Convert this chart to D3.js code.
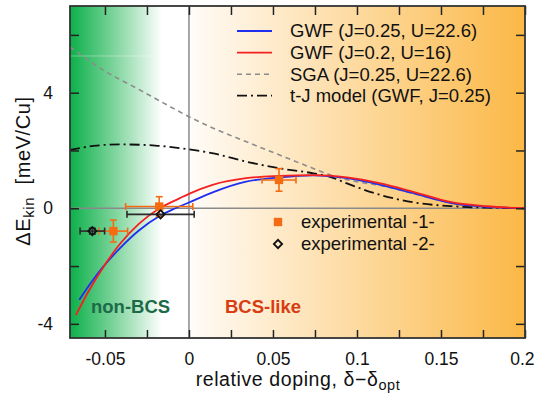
<!DOCTYPE html>
<html>
<head>
<meta charset="utf-8">
<script src="https://cdn.jsdelivr.net/npm/d3@7"></script>
<style>
  body { margin: 0; background: #fff; }
  svg { display: block; font-family: "Liberation Sans", Arial, sans-serif; }
</style>
</head>
<body>
<div id="main"></div>
<script>
// curves: doping (delta - delta_opt) vs Delta E_kin [meV/Cu]
var gwfBlueX = [-0.0653, -0.058, -0.051, -0.041, -0.03, -0.017, -0.008, 0, 0.0145, 0.034, 0.054, 0.074, 0.094, 0.114, 0.1335, 0.157, 0.177, 0.2];
var gwfBlueY = [-3.17, -2.55, -2.02, -1.38, -0.78, -0.25, 0.0, 0.2, 0.56, 0.92, 1.07, 1.14, 1.04, 0.81, 0.52, 0.17, 0.05, 0];

var gwfRedX = [-0.0673, -0.06, -0.051, -0.041, -0.03, -0.0177, -0.0054, 0, 0.0145, 0.034, 0.054, 0.074, 0.094, 0.114, 0.1335, 0.157, 0.177, 0.2];
var gwfRedY = [-3.7, -2.9, -2.04, -1.23, -0.55, -0.01, 0.35, 0.5, 0.82, 1.04, 1.12, 1.15, 1.07, 0.86, 0.57, 0.2, 0.07, 0];

var sgaX = [-0.0708, -0.051, -0.031, -0.0113, 0, 0.0145, 0.0343, 0.054, 0.074, 0.088, 0.0998, 0.114, 0.133, 0.157, 0.177, 0.2];
var sgaY = [5.59, 4.78, 4.15, 3.52, 3.17, 2.77, 2.3, 1.84, 1.38, 1.08, 0.92, 0.79, 0.52, 0.18, 0.06, 0];

var tjX = [-0.0708, -0.055, -0.041, -0.02, -0.0054, 0.0145, 0.0343, 0.054, 0.074, 0.084, 0.094, 0.114, 0.134, 0.157, 0.177, 0.2];
var tjY = [2.02, 2.17, 2.21, 2.17, 2.08, 1.9, 1.61, 1.38, 1.21, 1.09, 0.86, 0.46, 0.2, 0.07, 0.02, 0];

// experimental points: x, y, x error, y error
var exp1X = [-0.045, -0.0177, 0.0536];
var exp1Y = [-0.79, 0.06, 0.98];
var exp1Dx = [0.0085, 0.02, 0.0101];
var exp1Dy = [0.38, 0.34, 0.39];

var exp2X = [-0.0575, -0.0169];
var exp2Y = [-0.79, -0.21];
var exp2Dx = [0.0073, 0.02];
var exp2Dy = [0.1, 0];

var xTicks = [-0.05, -0.025, 0, 0.025, 0.05, 0.075, 0.1, 0.125, 0.15, 0.175, 0.2];
var xLabelled = [-0.05, 0, 0.05, 0.1, 0.15, 0.2];
var yTicks = [-4, -2, 0, 2, 4, 6];
var yLabelled = [-4, 0, 4];

var legendNames = ["GWF (J=0.25, U=22.6)", "GWF (J=0.2, U=16)", "SGA (J=0.25, U=22.6)", "t-J model (GWF, J=0.25)"];

var W = 535, H = 401;
var svg = d3.select("#main").append("svg").attr("width", W).attr("height", H);

var x = d3.scaleLinear().domain([-0.0708, 0.2]).range([70, 525]);
var y = d3.scaleLinear().domain([-4.49, 7]).range([338, 6]);
var x0 = x.range()[0], x1 = x.range()[1], y0 = y.range()[1], y1 = y.range()[0];

// background: green fade on the left, orange ramp on the right
var defs = svg.append("defs");
var grad = defs.append("linearGradient").attr("id", "bg")
    .attr("gradientUnits", "userSpaceOnUse")
    .attr("x1", x0).attr("x2", x1).attr("y1", 0).attr("y2", 0);
function off(px) { return (px - x0) / (x1 - x0); }
grad.append("stop").attr("offset", 0).attr("stop-color", "#0cb04a");
grad.append("stop").attr("offset", off(115)).attr("stop-color", "#7fd59d");
grad.append("stop").attr("offset", off(162)).attr("stop-color", "#ffffff");
grad.append("stop").attr("offset", off(x(0))).attr("stop-color", "#ffffff");
grad.append("stop").attr("offset", off(x(0) + 4)).attr("stop-color", "#fffbf6");
grad.append("stop").attr("offset", 1).attr("stop-color", "#fbb846");

var clip = defs.append("clipPath").attr("id", "plotclip");
clip.append("rect").attr("x", x0).attr("y", y0).attr("width", x1 - x0).attr("height", y1 - y0);

svg.append("rect")
    .attr("x", x0).attr("y", y0)
    .attr("width", x1 - x0).attr("height", y1 - y0)
    .attr("fill", "url(#bg)");

// faint light streak in the green band
svg.append("line")
    .attr("x1", x0).attr("x2", 162)
    .attr("y1", y(5.27)).attr("y2", y(5.27))
    .attr("stroke", "#ffffff").attr("stroke-opacity", 0.35).attr("stroke-width", 1);

// zero lines
svg.append("line")
    .attr("x1", x(0)).attr("x2", x(0)).attr("y1", y0).attr("y2", y1)
    .attr("stroke", "#8a8a8a").attr("stroke-width", 1.5);
svg.append("line")
    .attr("x1", x0).attr("x2", x1).attr("y1", y(0)).attr("y2", y(0))
    .attr("stroke", "#8a8a8a").attr("stroke-width", 1.5);

var line = d3.line()
    .x(function(d) { return x(d[0]); })
    .y(function(d) { return y(d[1]); })
    .curve(d3.curveMonotoneX);

function pairs(xs, ys) { return xs.map(function(v, i) { return [v, ys[i]]; }); }

var series = [
  { pts: pairs(sgaX, sgaY), color: "#8c8c8c", width: 1.6, dash: "5,4" },
  { pts: pairs(tjX, tjY), color: "#111111", width: 1.8, dash: "10,4,2,4" },
  { pts: pairs(gwfBlueX, gwfBlueY), color: "#1f2ff0", width: 1.8, dash: null },
  { pts: pairs(gwfRedX, gwfRedY), color: "#f42020", width: 1.8, dash: null }
];

var curves = svg.append("g").attr("clip-path", "url(#plotclip)");
series.forEach(function(s) {
  curves.append("path")
      .attr("d", line(s.pts))
      .attr("fill", "none")
      .attr("stroke", s.color)
      .attr("stroke-width", s.width)
      .attr("stroke-dasharray", s.dash);
});

// error bars
var orange = "#f46b12";
function errorBars(xs, ys, dxs, dys, color) {
  var g = svg.append("g").attr("stroke", color).attr("stroke-width", 1.6).attr("fill", "none");
  xs.forEach(function(v, i) {
    var cx = x(v), cy = y(ys[i]);
    var xa = x(v - dxs[i]), xb = x(v + dxs[i]);
    g.append("line").attr("x1", xa).attr("x2", xb).attr("y1", cy).attr("y2", cy);
    g.append("line").attr("x1", xa).attr("x2", xa).attr("y1", cy - 3.5).attr("y2", cy + 3.5);
    g.append("line").attr("x1", xb).attr("x2", xb).attr("y1", cy - 3.5).attr("y2", cy + 3.5);
    if (dys[i] > 0) {
      var ya = y(ys[i] + dys[i]), yb = y(ys[i] - dys[i]);
      g.append("line").attr("x1", cx).attr("x2", cx).attr("y1", ya).attr("y2", yb);
      g.append("line").attr("x1", cx - 3.5).attr("x2", cx + 3.5).attr("y1", ya).attr("y2", ya);
      g.append("line").attr("x1", cx - 3.5).attr("x2", cx + 3.5).attr("y1", yb).attr("y2", yb);
    }
  });
}
errorBars(exp1X, exp1Y, exp1Dx, exp1Dy, orange);
errorBars(exp2X, exp2Y, exp2Dx, exp2Dy, "#2a2a2a");

var squareSym = d3.symbol().type(d3.symbolSquare).size(70);
var diamondSym = d3.symbol().type(d3.symbolSquare).size(34);

function diamondAt(px, py) {
  svg.append("path").attr("d", diamondSym())
      .attr("transform", "translate(" + px + "," + py + ") rotate(45)")
      .attr("fill", "none").attr("stroke", "#111").attr("stroke-width", 1.8);
}

exp1X.forEach(function(v, i) {
  svg.append("path").attr("d", squareSym())
      .attr("transform", "translate(" + x(v) + "," + y(exp1Y[i]) + ")")
      .attr("fill", orange);
});
exp2X.forEach(function(v, i) { diamondAt(x(v), y(exp2Y[i])); });

// legend: curves
var legY = [31, 52.7, 74.3, 95.7];
var legOrder = [series[2], series[3], series[0], series[1]];
legOrder.forEach(function(s, i) {
  svg.append("line")
      .attr("x1", 237).attr("x2", 272)
      .attr("y1", legY[i]).attr("y2", legY[i])
      .attr("stroke", s.color).attr("stroke-width", s.width)
      .attr("stroke-dasharray", s.dash);
  svg.append("text")
      .attr("x", 290).attr("y", legY[i]).attr("dy", "0.35em")
      .attr("font-size", 18.5).attr("fill", "#111")
      .text(legendNames[i]);
});

// legend: experiments
svg.append("path").attr("d", squareSym())
    .attr("transform", "translate(278,222)").attr("fill", orange);
svg.append("text").attr("x", 301).attr("y", 222).attr("dy", "0.35em")
    .attr("font-size", 18.5).attr("fill", "#111").text("experimental -1-");
diamondAt(278, 244);
svg.append("text").attr("x", 301).attr("y", 244).attr("dy", "0.35em")
    .attr("font-size", 18.5).attr("fill", "#111").text("experimental -2-");

// region labels
svg.append("text").attr("x", 91).attr("y", 313)
    .attr("font-size", 18.5).attr("font-weight", "bold").attr("fill", "#1d6a48")
    .text("non-BCS");
svg.append("text").attr("x", 225).attr("y", 313)
    .attr("font-size", 18.5).attr("font-weight", "bold").attr("fill", "#d83c12")
    .text("BCS-like");

// axes with inward ticks on all four sides
function fmt(d) { return d === 0 ? "0" : String(+d.toFixed(3)); }

var axBottom = svg.append("g").attr("transform", "translate(0," + y1 + ")")
    .call(d3.axisBottom(x).tickValues(xTicks).tickSize(-8).tickPadding(15)
      .tickFormat(function(d) { return xLabelled.indexOf(d) >= 0 ? fmt(d) : ""; }));
var axTop = svg.append("g").attr("transform", "translate(0," + y0 + ")")
    .call(d3.axisTop(x).tickValues(xTicks).tickSize(-9).tickFormat(""));
var axLeft = svg.append("g").attr("transform", "translate(" + x0 + ",0)")
    .call(d3.axisLeft(y).tickValues(yTicks).tickSize(-9).tickPadding(17)
      .tickFormat(function(d) { return yLabelled.indexOf(d) >= 0 ? fmt(d) : ""; }));
var axRight = svg.append("g").attr("transform", "translate(" + x1 + ",0)")
    .call(d3.axisRight(y).tickValues(yTicks).tickSize(-9).tickFormat(""));

[axBottom, axTop, axLeft, axRight].forEach(function(g) {
  g.select(".domain").remove();
  g.selectAll(".tick line").attr("stroke", "#222").attr("stroke-width", 1.5);
  g.selectAll(".tick text").attr("font-size", 17.5).attr("fill", "#111")
      .attr("font-family", "Liberation Sans, Arial, sans-serif");
});
// last label sits on the page edge; keep it fully inside
axBottom.selectAll(".tick text")
    .filter(function(d) { return d === 0.2; })
    .attr("text-anchor", "end").attr("x", 534 - x(0.2));

svg.append("rect")
    .attr("x", x0).attr("y", y0)
    .attr("width", x1 - x0).attr("height", y1 - y0)
    .attr("fill", "none").attr("stroke", "#333").attr("stroke-width", 1.8);

// axis titles
var xt = svg.append("text").attr("x", 298).attr("y", 386)
    .attr("text-anchor", "middle").attr("font-size", 19.5)
    .attr("letter-spacing", 0.6).attr("fill", "#111");
xt.append("tspan").text("relative doping, \u03b4\u2212\u03b4");
xt.append("tspan").attr("font-size", 14.5).attr("dy", 4).text("opt");

var yt = svg.append("text")
    .attr("transform", "translate(30,171) rotate(-90)")
    .attr("text-anchor", "middle").attr("font-size", 20)
    .attr("letter-spacing", 0.6).attr("fill", "#111");
yt.append("tspan").text("\u0394E");
yt.append("tspan").attr("font-size", 15).attr("dy", 4).text("kin");
yt.append("tspan").attr("dy", -4).text("\u00a0\u00a0[meV/Cu]");
</script>
</body>
</html>
